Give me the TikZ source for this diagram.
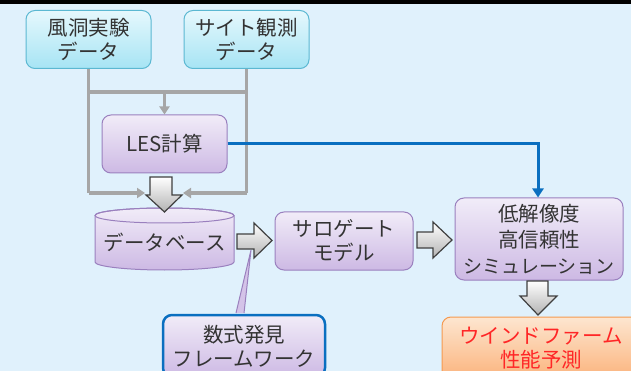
\documentclass[tikz,border=0pt]{standalone}
\usepackage{fontspec}
\setmainfont{Noto Sans CJK JP}
\usetikzlibrary{arrows.meta}
\definecolor{bgc}{HTML}{E0F1FC}
\definecolor{cyTop}{HTML}{E6F8FD}
\definecolor{cyBot}{HTML}{A6E4F4}
\definecolor{cyLine}{HTML}{5BB8D2}
\definecolor{puTop}{HTML}{F1ECF8}
\definecolor{puBot}{HTML}{CDB9E4}
\definecolor{puLine}{HTML}{9A80BE}
\definecolor{grLine}{HTML}{A6A6A6}
\definecolor{blLine}{HTML}{0A6FC0}
\definecolor{orTop}{HTML}{FDE6D0}
\definecolor{orBot}{HTML}{FBB37C}
\definecolor{orLine}{HTML}{F59A50}
\definecolor{txt}{HTML}{333333}
\definecolor{redtxt}{HTML}{FF2626}
\tikzset{
  basebox/.style={rounded corners=9pt, align=center, text=txt, inner sep=0pt,
    font=\fontsize{20.5}{24}\selectfont},
  cybox/.style={basebox, draw=cyLine, line width=1pt, top color=cyTop, bottom color=cyBot},
  pubox/.style={basebox, draw=puLine, line width=1pt, top color=puTop, bottom color=puBot},
  eqbox/.style={basebox, draw=blLine, line width=2.5pt, top color=puTop, bottom color=puBot},
  orbox/.style={basebox, draw=orLine, line width=1pt, top color=orTop, bottom color=orBot, text=redtxt},
  cylpath/.style={draw=puLine, line width=1pt, top color=puTop, bottom color=puBot},
  grayconn/.style={draw=grLine, line width=3.5pt, -{Triangle[length=8pt,width=10pt]}},
  grayline/.style={draw=grLine, line width=3.5pt},
  blueconn/.style={draw=blLine, line width=3pt, -{Triangle[length=9pt,width=11pt]}},
  blockarrow/.style={draw=black!75, line width=1.2pt, top color=white, bottom color=black!30, line join=miter},
}
\begin{document}
\begin{tikzpicture}[x=1pt,y=-1pt]
\useasboundingbox (0,0) rectangle (631,371);
\clip (0,0) rectangle (631,371);
\fill[bgc] (0,0) rectangle (631,371);
\fill[black] (0,0) rectangle (631,4);

% nodes
\node[cybox, minimum width=125pt, minimum height=58pt] (wind) at (88.5,39.5) {風洞実験\\データ};
\node[cybox, minimum width=125pt, minimum height=58pt] (site) at (246.5,39.5) {サイト観測\\データ};
\node[pubox, minimum width=125pt, minimum height=58pt] (les) at (164.5,144) {LES計算};
\node[pubox, minimum width=138pt, minimum height=58pt] (sur) at (344,241) {サロゲート\\モデル};
\node[pubox, minimum width=168pt, minimum height=82pt, font=\fontsize{20.5}{26}\selectfont] (sim) at (539,239) {低解像度\\高信頼性\\{\fontsize{19}{26}\selectfont シミュレーション}};
\node[orbox, minimum width=198pt, minimum height=62pt] (farm) at (541,348) {ウインドファーム\\性能予測};
\node[eqbox, minimum width=162pt, minimum height=62pt] (eq) at (244,346) {数式発見\\フレームワーク};

% gray connectors
\coordinate (jl) at (88.5,92);
\coordinate (jr) at (246.5,92);
\coordinate (bl) at (88.5,193);
\coordinate (br) at (246.5,193);
\coordinate (tl) at (145,193);
\coordinate (tr) at (183,193);
\draw[grayline] (wind.south) -- (bl);
\draw[grayline] (site.south) -- (br);
\draw[grayline] (jl) -- (jr);
\draw[grayconn] (164.5,92) -- (les.north);
\draw[grayconn] (bl) -- (tl);
\draw[grayconn] (br) -- (tr);

% blue connector
\draw[blueconn] (les.east) -- (538,144) -- (sim.north -| 538,0);

% database cylinder
\path[cylpath] (95,215.5) -- (95,262) arc[start angle=180,end angle=0,x radius=69.5,y radius=8] -- (234,215.5) arc[start angle=0,end angle=-180,x radius=69.5,y radius=7.5] -- cycle;
\draw[puLine, line width=1pt] (164.5,215.5) ellipse[x radius=69.5, y radius=7.5];
\node[basebox] (db) at (164.5,242) {データベース};

% block arrows
\draw[blockarrow] (150,177) -- (172,177) -- (172,195) -- (182,195) -- (164.5,212) -- (146,195) -- (150,195) -- cycle;
\draw[blockarrow] (237,234) -- (254,234) -- (254,223) -- (272,240.5) -- (254,258) -- (254,249) -- (237,249) -- cycle;
\draw[blockarrow] (417,232) -- (433,232) -- (433,222) -- (452,240) -- (433,258) -- (433,248) -- (417,248) -- cycle;
\draw[blockarrow] (527,281) -- (548,281) -- (548,296) -- (557,296) -- (538,315) -- (520,296) -- (527,296) -- cycle;

% callout pointer
\draw[puLine, line width=1pt, fill=puBot!80!puTop] (236,313) -- (251,250) -- (244,313);
\end{tikzpicture}
\end{document}
